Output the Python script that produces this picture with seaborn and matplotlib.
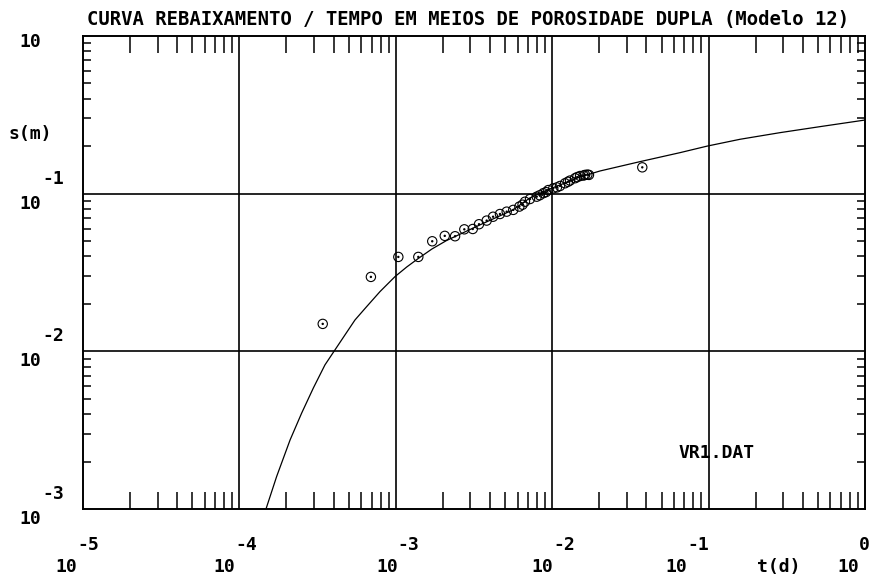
import numpy as np
import pandas as pd
import matplotlib
matplotlib.use("Agg")
import matplotlib.pyplot as plt
import seaborn as sns

# ---- data ----
obs_t = [3.41e-4, 6.93e-4, 1.038e-3, 1.393e-3, 1.710e-3, 2.056e-3, 2.393e-3, 2.742e-3,
         3.105e-3, 3.404e-3, 3.811e-3, 4.188e-3, 4.634e-3, 5.117e-3, 5.636e-3, 6.166e-3,
         6.46e-3, 6.699e-3, 7.211e-3, 7.962e-3, 8.32e-3, 8.770e-3, 9.12e-3, 9.441e-3,
         1.016e-2, 1.072e-2, 1.122e-2, 1.208e-2, 1.259e-2, 1.300e-2, 1.400e-2, 1.445e-2,
         1.507e-2, 1.585e-2, 1.622e-2, 1.679e-2, 1.718e-2, 3.767e-2]
obs_s = [0.01493, 0.02965, 0.0397, 0.0397, 0.0499, 0.0540, 0.0537, 0.0594,
         0.0597, 0.0640, 0.0675, 0.0714, 0.0743, 0.0769, 0.0789, 0.0828,
         0.0851, 0.0889, 0.0925, 0.0957, 0.0977, 0.1007, 0.1023, 0.1054,
         0.1081, 0.1096, 0.1119, 0.1164, 0.1189, 0.1211, 0.1253, 0.1274,
         0.1294, 0.1303, 0.1315, 0.1321, 0.1315, 0.1469]

model_t = [1.479e-4, 1.730e-4, 2.109e-4, 2.500e-4, 2.972e-4, 3.524e-4, 4.083e-4, 4.732e-4,
           5.483e-4, 6.516e-4, 7.925e-4, 9.886e-4, 1.175e-3, 1.393e-3, 1.702e-3, 2.113e-3,
           3.451e-3, 5.610e-3, 7.211e-3, 9.268e-3, 1.507e-2, 2.023e-2, 3.639e-2, 6.561e-2,
           9.817e-2, 0.1589, 0.2864, 0.5152, 1.0]
model_s = [1.0e-3, 1.607e-3, 2.742e-3, 4.055e-3, 5.861e-3, 8.204e-3, 1.021e-2, 1.271e-2,
           1.581e-2, 1.923e-2, 2.393e-2, 2.979e-2, 3.428e-2, 3.882e-2, 4.457e-2, 5.047e-2,
           6.339e-2, 7.889e-2, 9.397e-2, 0.1054, 0.1276, 0.1393, 0.1596, 0.1820,
           0.2004, 0.2213, 0.2438, 0.2661, 0.2931]

x_exps = [-5, -4, -3, -2, -1, 0]
y_exps = [0, -1, -2, -3]
title = "CURVA REBAIXAMENTO / TEMPO EM MEIOS DE POROSIDADE DUPLA (Modelo 12)"
xlabel = "t(d)"
ylabel = "s(m)"
file_label = "VR1.DAT"

# ---- figure ----
sns.set_style("white")
plt.rcParams['font.family'] = ['DejaVu Sans Mono', 'DejaVu Sans']
W, H = 871, 579
fig = plt.figure(figsize=(W / 100, H / 100), dpi=100)
L, R, T, B = 83, 865, 36, 509
ax = fig.add_axes([L / W, 1 - B / H, (R - L) / W, (B - T) / H])

obs = pd.DataFrame({"t": obs_t, "s": obs_s})
mod = pd.DataFrame({"t": model_t, "s": model_s})

sns.lineplot(data=mod, x="t", y="s", ax=ax, color="black", linewidth=0.9,
             sort=False, estimator=None)
sns.scatterplot(data=obs, x="t", y="s", ax=ax, marker="o", s=45,
                facecolor="none", edgecolor="black", linewidth=0.8, zorder=4)
sns.scatterplot(data=obs, x="t", y="s", ax=ax, marker="o", s=3,
                color="black", edgecolor="none", zorder=5)

ax.set_xscale("log")
ax.set_yscale("log")
ax.set_xlim(1e-5, 1)
ax.set_ylim(1e-3, 1)
ax.set_xlabel("")
ax.set_ylabel("")

for e in x_exps[1:-1]:
    ax.axvline(10.0 ** e, color="black", linewidth=1.2, zorder=1)
for e in y_exps[1:-1]:
    ax.axhline(10.0 ** e, color="black", linewidth=1.2, zorder=1)

for sp in ax.spines.values():
    sp.set_color("black")
    sp.set_linewidth(1.4)

ax.xaxis.set_major_locator(matplotlib.ticker.LogLocator(base=10, numticks=10))
ax.xaxis.set_minor_locator(matplotlib.ticker.LogLocator(base=10, subs=np.arange(2, 10), numticks=20))
ax.yaxis.set_major_locator(matplotlib.ticker.LogLocator(base=10, numticks=10))
ax.yaxis.set_minor_locator(matplotlib.ticker.LogLocator(base=10, subs=np.arange(2, 10), numticks=20))
ax.tick_params(which="major", length=0, labelbottom=False, labelleft=False)
ax.tick_params(axis="x", which="minor", direction="in", length=12.5, width=1.1,
               top=True, bottom=True, labelbottom=False, color="black")
ax.tick_params(axis="y", which="minor", direction="in", length=6, width=1.1,
               left=True, right=True, labelleft=False, color="black")

fs = 13
fkw = dict(fontsize=fs, fontweight="bold", color="black")

# y tick labels
for e in y_exps:
    off = -6 if e == 0 else -10
    ax.annotate("10", xy=(0, 10.0 ** e), xycoords=("axes fraction", "data"),
                xytext=(30 - L, off), textcoords="offset pixels",
                ha="center", va="center", **fkw)
    if e != 0:
        ax.annotate(str(e), xy=(0, 10.0 ** e), xycoords=("axes fraction", "data"),
                    xytext=(53 - L, 15), textcoords="offset pixels",
                    ha="center", va="center", **fkw)

# x tick labels
x_shift = [-6, -4, 2, 1, -21, -6]
for e, dx in zip(x_exps, x_shift):
    ax.annotate(str(e), xy=(10.0 ** e, 0), xycoords=("data", "axes fraction"),
                xytext=(dx, -36), textcoords="offset pixels",
                ha="left", va="center", **fkw)
    ax.annotate("10", xy=(10.0 ** e, 0), xycoords=("data", "axes fraction"),
                xytext=(dx, -58), textcoords="offset pixels",
                ha="right", va="center", **fkw)

fig.text(779 / W, 1 - 567 / H, xlabel, ha="center", va="center", **fkw)
fig.text(30 / W, 1 - 134 / H, ylabel, ha="center", va="center", **fkw)
fig.text(717 / W, 1 - 453 / H, file_label, ha="center", va="center", **fkw)
fig.text(468 / W, 1 - 19 / H, title, ha="center", va="center",
         fontsize=13.6, fontweight="bold", color="black")

fig.savefig("out.png", dpi=100, facecolor="white")
